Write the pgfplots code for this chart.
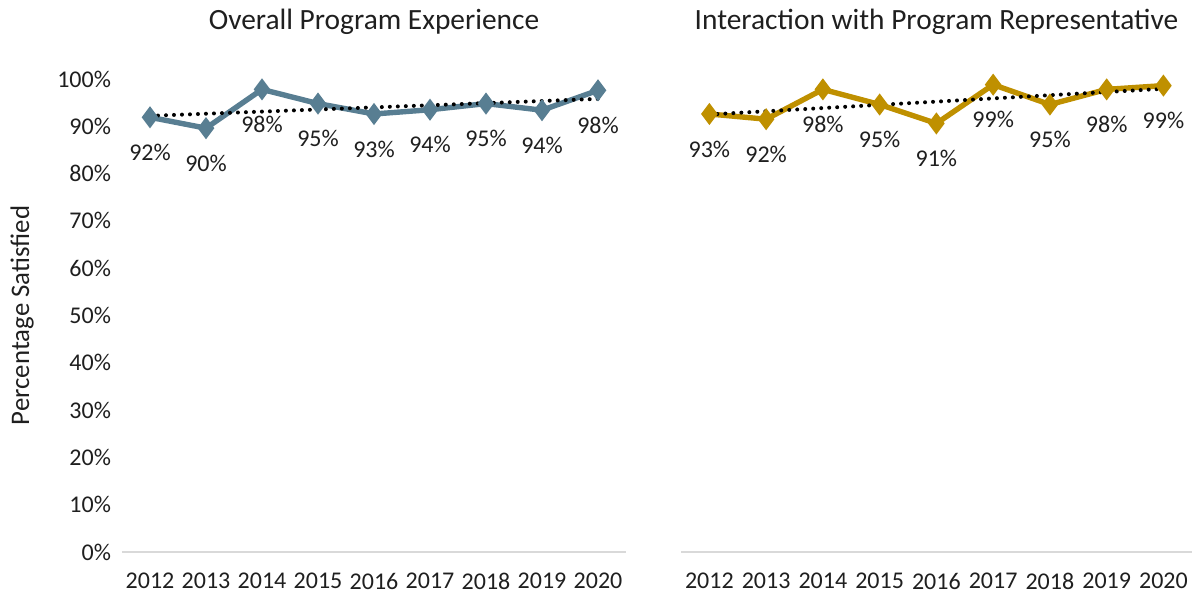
\documentclass[border=0pt]{standalone}
\usepackage{pgfplots}
\usepackage{pgfplotstable}
\pgfplotsset{compat=1.18}
\usepackage{fontspec}
\setmainfont{Carlito}
\definecolor{steel}{HTML}{587E92}
\definecolor{gold}{HTML}{BF9000}
\definecolor{txt}{HTML}{1F1F1F}
\definecolor{axgray}{HTML}{D9D9D9}

\pgfplotstableread{
x y lab
0 0.919 92\%
1 0.896 90\%
2 0.978 98\%
3 0.948 95\%
4 0.926 93\%
5 0.935 94\%
6 0.948 95\%
7 0.934 94\%
8 0.976 98\%
}\leftdata
\pgfplotstableread{
x y lab
0 0.926 93\%
1 0.915 92\%
2 0.978 98\%
3 0.946 95\%
4 0.906 91\%
5 0.988 99\%
6 0.946 95\%
7 0.978 98\%
8 0.986 99\%
}\rightdata

\pgfplotsset{
  common/.style={
    scale only axis,
    height=236.5pt,
    ymin=0, ymax=1,
    xmin=-0.5, xmax=8.5,
    clip=false,
    axis x line*=bottom,
    x axis line style={-, axgray, line width=1.2pt},
    major tick length=0pt,
    xtick={0,...,8},
    xticklabels={2012,2013,2014,2015,2016,2017,2018,2019,2020},
    xticklabel style={font=\fontsize{12}{14}\selectfont, text=txt, yshift=-7pt},
    title style={at={(0.5,1)}, anchor=center, yshift=22.5pt, font=\fontsize{14.7}{17}\selectfont, text=txt},
    nodes near coords,
    point meta=explicit symbolic,
    every node near coord/.append style={font=\fontsize{12}{14}\selectfont, text=txt, anchor=center, yshift=-17.5pt},
  },
  trend/.style={black, line width=2pt, dash pattern=on 0pt off 4pt, line cap=round, forget plot},
}

\begin{document}
\begin{tikzpicture}[x=1pt,y=1pt]
\path[use as bounding box] (0,0) rectangle (597,298.5);
\begin{axis}[common,
  at={(61pt,22.5pt)}, anchor=south west,
  width=252pt,
  title={Overall Program Experience},
  axis y line*=left,
  y axis line style={draw=none},
  ytick={0,0.1,0.2,0.3,0.4,0.5,0.6,0.7,0.8,0.9,1.0},
  yticklabels={0\%,10\%,20\%,30\%,40\%,50\%,60\%,70\%,80\%,90\%,100\%},
  yticklabel style={font=\fontsize{12}{14}\selectfont, text=txt, xshift=-2pt},
  ylabel={Percentage Satisfied},
  ylabel style={at={(axis description cs:-0.198,0.5)}, anchor=center, font=\fontsize{13.4}{15}\selectfont, text=txt},
]
\addplot[steel, line width=2.7pt, mark=diamond*, mark size=3.3pt, mark options={solid}] table[x=x, y=y, meta=lab] {\leftdata};
\addplot[trend, nodes near coords={}] table[x=x, y={create col/linear regression={y=y}}] {\leftdata};
\end{axis}
\begin{axis}[common,
  at={(340.5pt,22.5pt)}, anchor=south west,
  width=255.4pt,
  title={Interaction with Program Representative},
  axis y line=none,
  ytick=\empty,
]
\addplot[gold, line width=2.7pt, mark=diamond*, mark size=3.3pt, mark options={solid}] table[x=x, y=y, meta=lab] {\rightdata};
\addplot[trend, nodes near coords={}] table[x=x, y={create col/linear regression={y=y}}] {\rightdata};
\end{axis}
\end{tikzpicture}
\end{document}
